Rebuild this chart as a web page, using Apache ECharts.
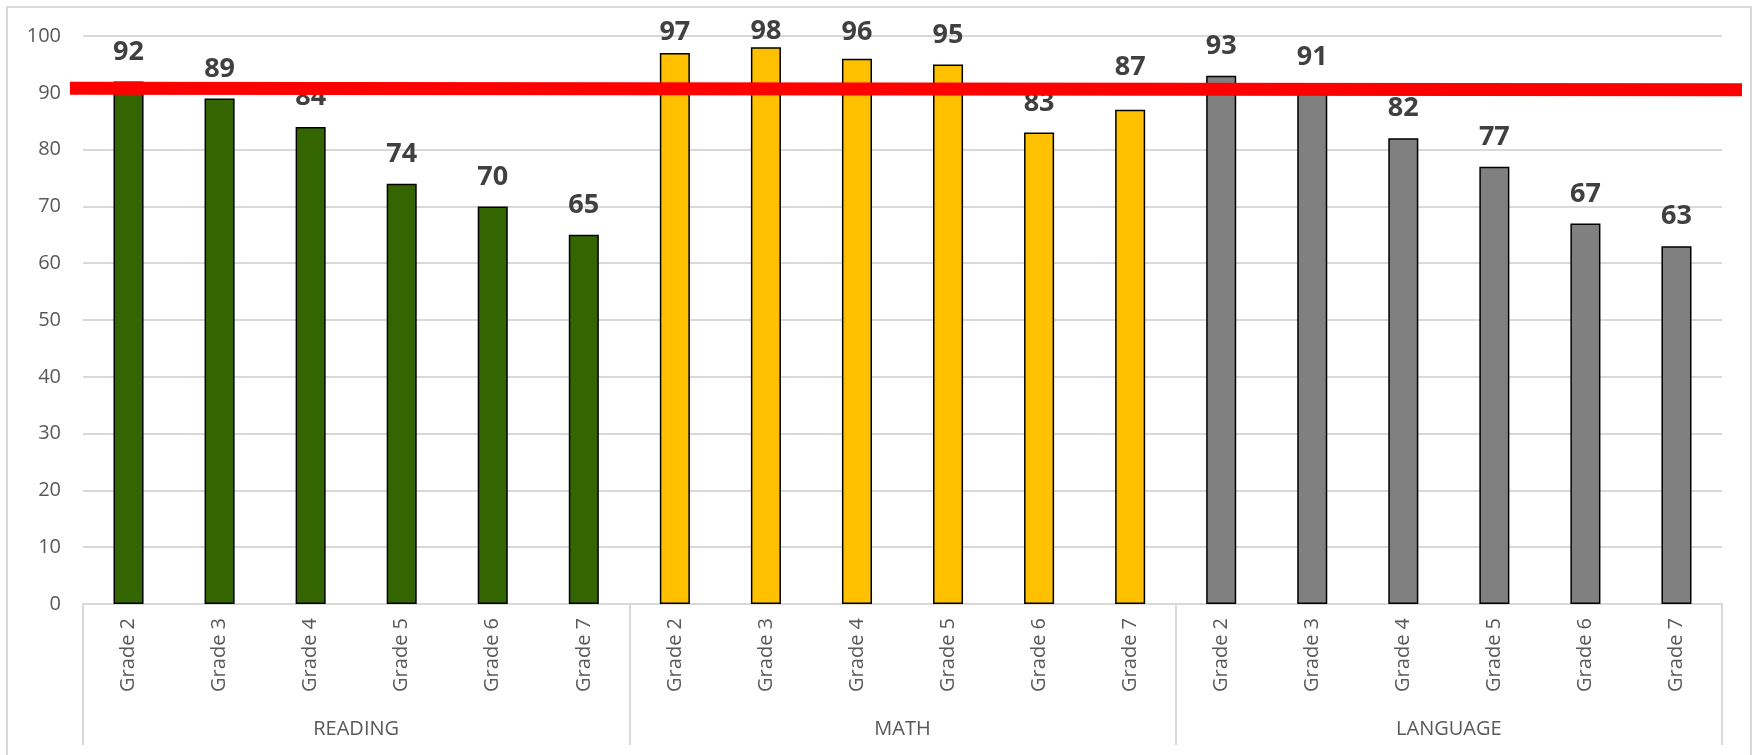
<!DOCTYPE html>
<html>
<head>
<meta charset="utf-8">
<script src="https://cdn.jsdelivr.net/npm/echarts@6/dist/echarts.min.js"></script>
<style>
  html, body { margin: 0; padding: 0; background: #fff; }
  #chart { width: 1754px; height: 755px; }
</style>
</head>
<body>
<div id="chart"></div>
<script>
// grades shown under each subject
const grades = ['Grade 2', 'Grade 3', 'Grade 4', 'Grade 5', 'Grade 6', 'Grade 7'];
const subjects = ['READING', 'MATH', 'LANGUAGE'];
const subjectColors = ['#336600', '#ffc000', '#808080'];

const readingScores = [92, 89, 84, 74, 70, 65];
const mathScores = [97, 98, 96, 95, 83, 87];
const languageScores = [93, 91, 82, 77, 67, 63];

// target line (left end, right end), drawn slightly sloped like the original
const targetLine = [90.8, 90.55];

const yTicks = { min: 0, max: 100, interval: 10 };

// a few labels were moved by hand in the original (px, + = down)
const labelNudge = [
  0, 0, 0, 0, 0, 0,
  9, 13, 3, 0, 0, -13,
  0, 0, 0, 0, 0, 0,
];

const TXT = '#595959';
const FONT = 'Open Sans';

// flatten groups into one category axis
const categories = [];
const barData = [];
[readingScores, mathScores, languageScores].forEach((scores, gi) => {
  scores.forEach((v, i) => {
    const k = categories.length;
    categories.push(grades[i]);
    barData.push({
      value: v,
      itemStyle: { color: subjectColors[gi] },
      label: { offset: [0, labelNudge[k]] },
    });
  });
});

const chart = echarts.init(document.getElementById('chart'));

chart.setOption({
  animation: false,
  grid: { left: 83, right: 32, top: 36, bottom: 151 },
  xAxis: [
    {
      type: 'category',
      data: categories,
      position: 'bottom',
      axisLine: { lineStyle: { color: '#d9d9d9', width: 2 } },
      axisTick: { show: false },
      axisLabel: {
        rotate: 90, margin: 14, interval: 0,
        color: TXT, fontSize: 20, fontFamily: FONT,
      },
    },
    {
      type: 'category',
      data: subjects,
      position: 'bottom',
      offset: 141,
      axisLine: { show: false },
      axisTick: { show: true, inside: true, length: 141, lineStyle: { color: '#d9d9d9', width: 2 } },
      axisLabel: {
        inside: true, margin: 6,
        color: TXT, fontSize: 20, fontFamily: FONT,
      },
    },
  ],
  yAxis: {
    type: 'value',
    min: yTicks.min, max: yTicks.max, interval: yTicks.interval,
    axisLine: { show: false },
    axisTick: { show: false },
    axisLabel: { color: TXT, fontSize: 20, fontFamily: FONT, margin: 22 },
    splitLine: { lineStyle: { color: '#d9d9d9', width: 2 } },
  },
  series: [{
    type: 'bar',
    xAxisIndex: 0,
    data: barData,
    barWidth: '33%',
    itemStyle: { borderColor: '#000', borderWidth: 1.5 },
    label: {
      show: true, position: 'top', distance: 16,
      color: '#404040', fontSize: 27, fontWeight: 'bold', fontFamily: FONT,
    },
  }],
});

// red target line spans past the plot on both sides
const yLeft = chart.convertToPixel({ yAxisIndex: 0 }, targetLine[0]);
const yRight = chart.convertToPixel({ yAxisIndex: 0 }, targetLine[1]);

chart.setOption({
  graphic: [
    {
      // chart frame; the bottom edge falls outside the picture
      type: 'rect', z: 0, silent: true,
      shape: { x: 7, y: 7, width: 1744, height: 760 },
      style: { fill: 'none', stroke: '#d9d9d9', lineWidth: 2 },
    },
    {
      type: 'line', z: 100, silent: true,
      shape: { x1: 70, y1: yLeft, x2: 1742, y2: yRight },
      style: { stroke: '#ff0000', lineWidth: 13 },
    },
  ],
});
</script>
</body>
</html>
